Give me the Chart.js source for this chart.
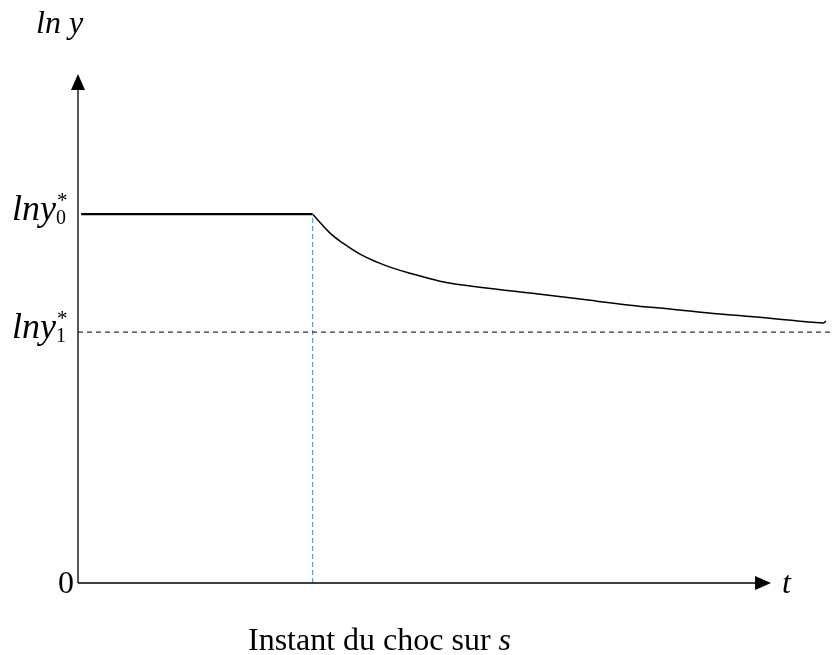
<!DOCTYPE html>
<html>
<head>
<meta charset="utf-8">
<script src="https://cdn.jsdelivr.net/npm/chart.js@4/dist/chart.umd.min.js"></script>
<style>
  html, body { margin: 0; padding: 0; background: #ffffff; }
  #wrap { width: 832px; height: 655px; }
</style>
</head>
<body>
<div id="wrap"><canvas id="c" width="832" height="655"></canvas></div>
<script>
// Levels of ln y (arbitrary units)
const lnY0 = 3.0;     // initial steady state
const lnY1 = 2.04;    // new steady state after the shock
const yTop = 4.14;    // top of the vertical axis (arrow tip)

// Time axis
const tShock = 3.735; // moment of the shock on s
const tEnd = 12;      // right edge of the plot
const tArrow = 11.03; // tip of the time axis arrow

// Path before the shock
const preT = [0.05, tShock];
const preY = [lnY0, lnY0];

// Transition path after the shock
const postT = [3.735, 4.011, 4.218, 4.488, 4.759, 5.013, 5.284, 5.761, 6.127, 7.194, 7.99, 8.785, 9.422, 10.218, 11.013, 11.857, 11.905];
const postY = [3.0, 2.846, 2.764, 2.675, 2.61, 2.561, 2.52, 2.455, 2.423, 2.358, 2.309, 2.26, 2.228, 2.187, 2.154, 2.114, 2.13];

// Tick labels on the vertical axis
const yTickVals = [lnY0, lnY1];
const yTickSubs = ['0', '1'];

const pts = (xs, ys) => xs.map((x, i) => ({ x, y: ys[i] }));

// Axes with arrows and the mathematical labels
const axesPlugin = {
  id: 'axesPlugin',
  afterDatasetsDraw(chart) {
    const { ctx, scales: { x, y } } = chart;
    const x0 = x.getPixelForValue(0);
    const y0 = y.getPixelForValue(0);
    const yTip = y.getPixelForValue(yTop);
    const xTip = x.getPixelForValue(tArrow);
    ctx.save();
    ctx.strokeStyle = '#000';
    ctx.fillStyle = '#000';
    ctx.lineWidth = 1.3;
    ctx.beginPath();
    ctx.moveTo(x0, y0);
    ctx.lineTo(x0, yTip + 8);
    ctx.moveTo(x0, y0);
    ctx.lineTo(xTip - 8, y0);
    ctx.stroke();
    // arrow heads
    ctx.beginPath();
    ctx.moveTo(x0, yTip);
    ctx.lineTo(x0 - 7, yTip + 16);
    ctx.lineTo(x0 + 7, yTip + 16);
    ctx.closePath();
    ctx.fill();
    ctx.beginPath();
    ctx.moveTo(xTip, y0);
    ctx.lineTo(xTip - 16, y0 - 7);
    ctx.lineTo(xTip - 16, y0 + 7);
    ctx.closePath();
    ctx.fill();

    // axis titles
    ctx.textBaseline = 'alphabetic';
    ctx.textAlign = 'left';
    ctx.font = 'italic 32px "Liberation Serif"';
    ctx.fillText('ln y', 36, 33);
    ctx.fillText('t', 782, y0 + 10);
    ctx.font = '32px "Liberation Serif"';
    ctx.textAlign = 'right';
    ctx.fillText('0', x0 - 4, y0 + 10);

    // ln y* labels
    yTickVals.forEach((v, i) => {
      const py = y.getPixelForValue(v);
      const base = py + 6;
      ctx.textAlign = 'left';
      ctx.font = 'italic 36px "Liberation Serif"';
      ctx.fillText('lny', 12, base);
      const w = ctx.measureText('lny').width;
      ctx.font = '20px "Liberation Serif"';
      ctx.fillText(yTickSubs[i], 12 + w, base + 4);
      ctx.font = '21px "Liberation Serif"';
      ctx.fillText('*', 13 + w, base - 13);
    });

    // caption under the time axis
    ctx.font = '32px "Liberation Serif"';
    ctx.textAlign = 'left';
    const cap = 'Instant du choc sur ';
    ctx.fillText(cap, 248, 650);
    const w = ctx.measureText(cap).width;
    ctx.font = 'italic 32px "Liberation Serif"';
    ctx.fillText('s', 248 + w, 650);
    ctx.restore();
  }
};

new Chart(document.getElementById('c'), {
  type: 'line',
  data: {
    datasets: [
      {
        data: pts([0, tEnd], [lnY1, lnY1]),
        borderColor: '#333333',
        borderWidth: 1.2,
        borderDash: [5, 4],
        pointRadius: 0
      },
      {
        data: pts([tShock, tShock], [0, lnY0]),
        borderColor: '#5B9BD5',
        borderWidth: 1.2,
        borderDash: [5, 3],
        pointRadius: 0
      },
      {
        data: pts(preT, preY),
        borderColor: '#000000',
        borderWidth: 2.2,
        pointRadius: 0
      },
      {
        data: pts(postT, postY),
        borderColor: '#000000',
        borderWidth: 1.5,
        pointRadius: 0,
        tension: 0.4
      }
    ]
  },
  options: {
    responsive: false,
    animation: false,
    devicePixelRatio: 1,
    layout: { padding: { left: 78, right: 0, top: 74, bottom: 72 } },
    plugins: { legend: { display: false }, tooltip: { enabled: false } },
    scales: {
      x: { type: 'linear', min: 0, max: tEnd, display: false },
      y: { type: 'linear', min: 0, max: yTop, display: false }
    },
    clip: false
  },
  plugins: [axesPlugin]
});
</script>
</body>
</html>
